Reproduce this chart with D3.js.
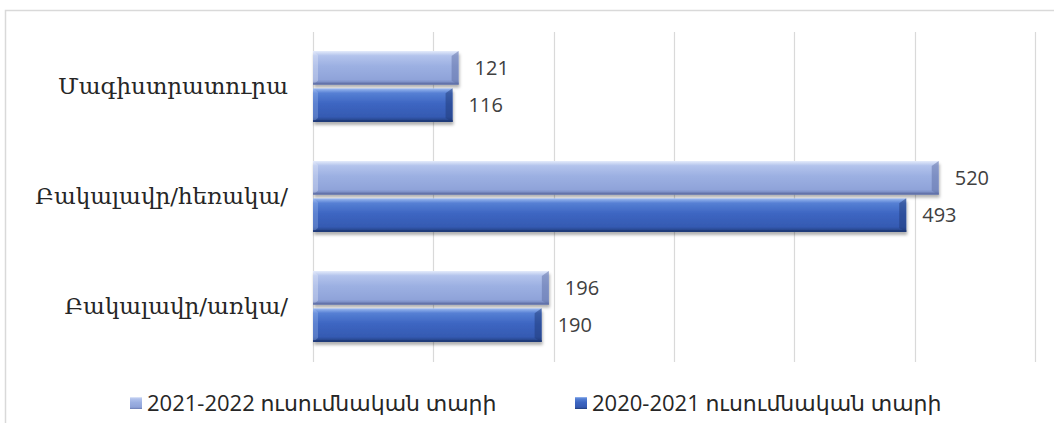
<html>
<script src="https://d3js.org/d3.v7.min.js"></script>
<style>
  body { margin: 0; background: #fff; }
  .cat { font-family: "DejaVu Serif", serif; font-size: 23px; fill: #262626; }
  .val { font-family: "Open Sans", "DejaVu Sans", sans-serif; font-size: 20px; fill: #404040; }
  .leg { font-family: "Open Sans", "DejaVu Sans", sans-serif; font-size: 22px; fill: #262626; }
</style>
<body>
<script>
  // chart data
  let categories = ["Մագիստրատուրա", "Բակալավր/հեռակա/", "Բակալավր/առկա/"];
  let seriesNames = ["2021-2022 ուսումնական տարի", "2020-2021 ուսումնական տարի"];
  let values2122 = [121, 520, 196];
  let values2021 = [116, 493, 190];
  let xTicks = [0, 100, 200, 300, 400, 500, 600];

  let width = 1054, height = 423;
  let plot = {left: 313, right: 1035, top: 32, bottom: 362};

  let svg = d3.select("body").append("svg")
      .attr("width", width).attr("height", height);

  let defs = svg.append("defs");
  // bar gradients, imitating the bevel look
  let grads = [
    {id: "gLight", stops: ["#e4ebfb", "#b3c3ec", "#9cb0e2", "#8fa3d9", "#6a7bb2"]},
    {id: "gDark",  stops: ["#9dbaf0", "#5580d4", "#3d66c2", "#355ab2", "#203c78"]}
  ];
  grads.forEach(g => {
    let lg = defs.append("linearGradient").attr("id", g.id)
        .attr("x1", 0).attr("y1", 0).attr("x2", 0).attr("y2", 1);
    [0, 0.14, 0.45, 0.85, 1].forEach((o, i) =>
      lg.append("stop").attr("offset", o).attr("stop-color", g.stops[i]));
  });
  let f = defs.append("filter").attr("id", "shadow")
      .attr("x", "-5%").attr("y", "-20%").attr("width", "110%").attr("height", "160%");
  f.append("feDropShadow").attr("dx", 1).attr("dy", 3).attr("stdDeviation", 1.6)
      .attr("flood-color", "#000").attr("flood-opacity", 0.3);

  // outer chart border
  svg.append("rect").attr("x", 5.5).attr("y", 10.5)
      .attr("width", 1100).attr("height", 500)
      .attr("fill", "none").attr("stroke", "#d9d9d9").attr("stroke-width", 1.5);

  let x = d3.scaleLinear().domain([0, 600]).range([plot.left, plot.right]);
  let y = d3.scaleBand().domain(categories).range([plot.top, plot.bottom]);
  let inner = d3.scaleBand().domain(seriesNames)
      .range([19, 19 + 71]).paddingInner(0.1);

  // vertical gridlines
  svg.append("g").selectAll("line").data(xTicks).join("line")
      .attr("x1", d => Math.round(x(d)) + 0.5).attr("x2", d => Math.round(x(d)) + 0.5)
      .attr("y1", plot.top).attr("y2", plot.bottom)
      .attr("stroke", "#d9d9d9").attr("stroke-width", 1.2);

  // category labels
  svg.append("g").selectAll("text").data(categories).join("text")
      .attr("class", "cat")
      .attr("x", 288)
      .attr("y", d => y(d) + y.bandwidth() / 2)
      .attr("dy", "0.3em")
      .attr("text-anchor", "end")
      .text(d => d);

  let rows = [];
  categories.forEach((c, i) => {
    rows.push({cat: c, s: seriesNames[0], v: values2122[i], fill: "url(#gLight)", edge: "#5f6fa6", hi: "#eef2fc"});
    rows.push({cat: c, s: seriesNames[1], v: values2021[i], fill: "url(#gDark)", edge: "#1f3a78", hi: "#a8c2f2"});
  });

  let bars = svg.append("g").selectAll("g").data(rows).join("g")
      .attr("transform", d => `translate(0,${y(d.cat) + inner(d.s)})`);

  let bh = inner.bandwidth();
  bars.append("rect")
      .attr("x", x(0)).attr("y", 0)
      .attr("width", d => x(d.v) - x(0)).attr("height", bh)
      .attr("fill", d => d.fill)
      .attr("filter", "url(#shadow)");
  // bevelled right end
  bars.append("path")
      .attr("d", d => {
        let xe = x(d.v);
        return `M${xe - 7},${5} L${xe},0 L${xe},${bh} L${xe - 7},${bh - 4} Z`;
      })
      .attr("fill", d => d.edge).attr("opacity", 0.5);
  // bevelled left end
  bars.append("path")
      .attr("d", `M${x(0)},0 L${x(0) + 5},4 L${x(0) + 5},${bh - 4} L${x(0)},${bh} Z`)
      .attr("fill", d => d.hi).attr("opacity", 0.3);
  // bottom edge
  bars.append("rect")
      .attr("x", x(0)).attr("y", bh - 2)
      .attr("width", d => x(d.v) - x(0)).attr("height", 2)
      .attr("fill", d => d.edge).attr("opacity", 0.8);

  // value labels
  bars.append("text").attr("class", "val")
      .attr("x", d => x(d.v) + 16)
      .attr("y", bh / 2)
      .attr("dy", "0.35em")
      .text(d => d.v);

  // legend
  let legend = [
    {name: seriesNames[0], fill: "url(#gLight)", x: 130},
    {name: seriesNames[1], fill: "url(#gDark)", x: 575}
  ];
  let lg = svg.append("g").selectAll("g").data(legend).join("g")
      .attr("transform", d => `translate(${d.x},397)`);
  lg.append("rect").attr("width", 12).attr("height", 12)
      .attr("fill", d => d.fill);
  lg.append("text").attr("class", "leg")
      .attr("x", 17).attr("y", 6).attr("dy", "0.35em")
      .text(d => d.name);
</script>
</body>
</html>
